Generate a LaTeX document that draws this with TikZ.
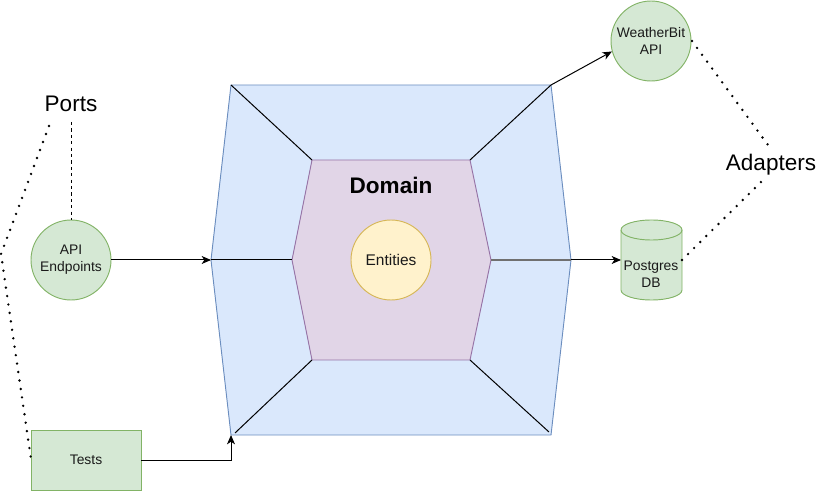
\documentclass[tikz,border=0pt]{standalone}
\usepackage{fontspec}
\setmainfont{Liberation Sans}
\usetikzlibrary{arrows.meta,calc}
\definecolor{gfill}{HTML}{D5E8D4}
\definecolor{gline}{HTML}{82B366}
\definecolor{bfill}{HTML}{DAE8FC}
\definecolor{bline}{HTML}{6C8EBF}
\definecolor{pfill}{HTML}{E1D5E7}
\definecolor{pline}{HTML}{9673A6}
\definecolor{yfill}{HTML}{FFF2CC}
\definecolor{yline}{HTML}{D6B656}
\definecolor{txt}{HTML}{1A1A1A}
\definecolor{thickgrey}{HTML}{707070}
\tikzset{
  smalltxt/.style={font=\fontsize{10.4pt}{13pt}\selectfont, align=center, text=txt},
  bigtxt/.style={font=\fontsize{16.9pt}{20pt}\selectfont, text=black},
  greencirc/.style={circle, draw=gline, fill=gfill, line width=0.7pt, minimum size=60pt, inner sep=0pt, smalltxt},
  conn/.style={line width=0.75pt, -{Stealth[length=7pt,width=6pt,inset=2pt]}},
  plainedge/.style={line width=0.75pt},
  dotline/.style={line width=2pt, dash pattern=on 0pt off 6.4pt, line cap=round},
  dashline/.style={line width=0.7pt, dash pattern=on 2.4pt off 2.4pt},
  shapeline/.style={line width=0.7pt}
}
\begin{document}
\begin{tikzpicture}[x=0.75pt,y=-0.75pt]
\useasboundingbox (0,0) rectangle (817,491);
% hexagon vertices
\coordinate (oTL) at (231,85);
\coordinate (oTR) at (551,85);
\coordinate (oR) at (571,260);
\coordinate (oBR) at (551,435);
\coordinate (oBL) at (231,435);
\coordinate (oL) at (211,260);
\coordinate (iTL) at (312,160);
\coordinate (iTR) at (470,160);
\coordinate (iR) at (491,260);
\coordinate (iBR) at (470,360);
\coordinate (iBL) at (312,360);
\coordinate (iL) at (292,260);
% outer and inner hexagons
\draw[shapeline, draw=bline, fill=bfill] (oTL) -- (oTR) -- (oR) -- (oBR) -- (oBL) -- (oL) -- cycle;
\draw[shapeline, draw=pline, fill=pfill] (iTL) -- (iTR) -- (iR) -- (iBR) -- (iBL) -- (iL) -- cycle;
% spokes
\draw[plainedge] (oTL) -- (iTL);
\draw[plainedge] ($(oBL)+(4,-2)$) -- (iBL);
\draw[plainedge] (iBR) -- ($(oBR)+(-2,-3)$);
\draw[plainedge] (oL) -- (iL);
\draw[line width=1.5pt, thickgrey] (iR) -- (oR);
% labels
\node[bigtxt, font=\fontsize{16.9pt}{20pt}\selectfont\bfseries] (domain) at (391,185) {Domain};
\node[circle, draw=yline, fill=yfill, line width=0.7pt, minimum size=60pt, inner sep=0pt, font=\fontsize{11.6pt}{14pt}\selectfont, text=txt] (ent) at (391,260) {Entities};
\node[bigtxt] (ports) at (71,104) {Ports};
\node[bigtxt] (adapters) at (771,165) {Adapters};
% outside nodes
\node[greencirc] (api) at (71,260) {API\\Endpoints};
\node[greencirc] (wb) at (651,41) {WeatherBit\\API};
\node[draw=gline, fill=gfill, line width=0.7pt, minimum width=82.5pt, minimum height=45pt, inner sep=0pt, smalltxt] (tests) at (86,460) {Tests};
% Postgres cylinder
\draw[shapeline, draw=gline, fill=gfill] (621,230) -- (621,290) arc[start angle=180, end angle=360, x radius=22.875pt, y radius=7.5pt] -- (682,230) arc[start angle=0, end angle=180, x radius=22.875pt, y radius=7.5pt] -- cycle;
\draw[shapeline, draw=gline] (621,230) arc[start angle=180, end angle=360, x radius=22.875pt, y radius=7.5pt];
\node[smalltxt] (pg) at (651,274) {Postgres\\DB};
\coordinate (pgW) at (621,260);
% connectors
\draw[conn] (api) -- (oL);
\draw[conn] (oR) -- (pgW);
\draw[conn] (iTR) -- (oTR) -- (wb.195);
\coordinate (tcorner) at (231,460);
\coordinate (ttip) at (231,435);
\draw[conn] (tests.east) -- (tcorner) -- (ttip);
% ports and adapters guides
\coordinate (pdot1) at (49,126);
\coordinate (pdot2) at (1,254);
\coordinate (pdot3) at (31,459);
\draw[dotline] (pdot1) -- (pdot2) -- (pdot3);
\coordinate (pdash) at (71,122);
\draw[dashline] (pdash) -- (api.north);
\coordinate (adot1) at (768,145);
\coordinate (adot2) at (761,182);
\draw[dotline] (692,41) -- (adot1);
\draw[dotline] (682,260) -- (adot2);
\end{tikzpicture}
\end{document}
